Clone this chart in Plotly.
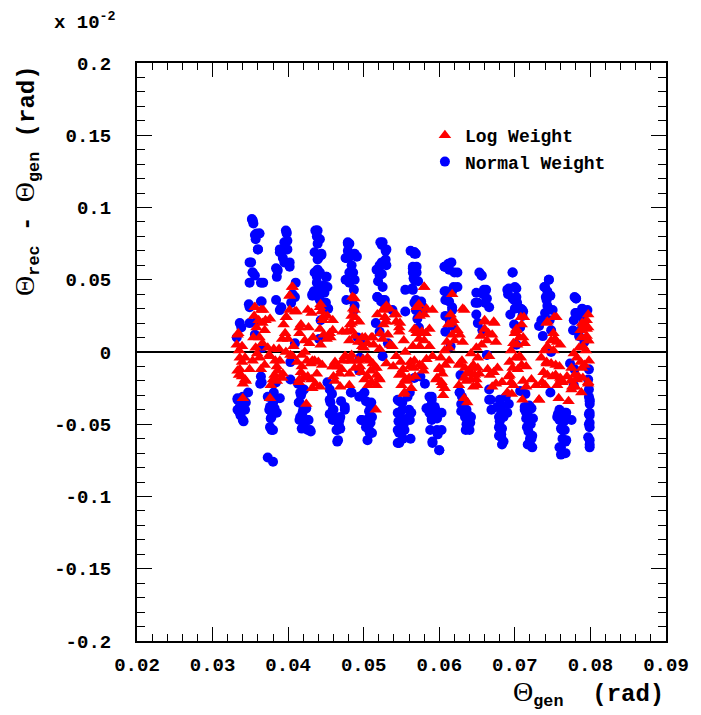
import plotly.graph_objects as go

# ---------------- data (units of the axes) ----------------
normal_x = [
    # cell 1
    .0333, .0340, .0336, .0343, .0337, .0341, .0333, .0344, .0347, .0332, .0336, .0338,
    .0353, .0354, .0356, .0362, .0357, .0360, .0351, .0353, .0356, .0349, .0364, .0348,
    .0364, .0349, .0358, .0356, .0365, .0352,
    # cell 2
    .0373, .0380, .0375, .0382, .0377, .0385, .0376, .0378, .0373, .0380, .0381, .0364,
    .0363, .0384, .0397, .0398, .0395, .0399, .0397, .0389, .0393, .0402, .0384, .0386,
    .0410, .0384, .0391, .0389, .0406, .0409, .0404, .0403, .0403, .0409,
    # cell 3
    .0413, .0416, .0417, .0421, .0414, .0420, .0424, .0416, .0423, .0427, .0418, .0426,
    .0430, .0436, .0438, .0435, .0440, .0435, .0438, .0432, .0434, .0440, .0439, .0442,
    .0444, .0439, .0447, .0442, .0450, .0452, .0448, .0450, .0453, .0443, .0441,
    # cell 4
    .0455, .0458, .0456, .0460, .0455, .0459, .0469, .0467, .0465, .0469, .0465, .0475,
    .0470, .0479, .0481, .0479, .0488, .0491, .0476, .0484, .0482, .0486, .0476, .0481,
    .0487, .0485, .0477, .0488, .0487, .0492, .0496, .0494, .0483,
    # cell 5
    .0494, .0498, .0503, .0509, .0507, .0511, .0506, .0509, .0503, .0507, .0505, .0511,
    .0497, .0522, .0524, .0529, .0529, .0521, .0530, .0520, .0524, .0519, .0525, .0518,
    .0523, .0528, .0528, .0538, .0516, .0521, .0532, .0525,
    # cell 6
    .0545, .0547, .0551, .0545, .0549, .0546, .0553, .0545, .0551, .0547, .0552, .0558,
    .0560, .0558, .0562, .0567, .0569, .0565, .0570, .0566, .0572, .0564, .0569, .0574,
    .0577, .0580, .0569, .0571, .0573, .0555, .0562, .0555, .0575, .0581, .0567,
    # cell 7
    .0587, .0590, .0589, .0595, .0587, .0593, .0590, .0597, .0588, .0597, .0598, .0591,
    .0600, .0583, .0607, .0612, .0613, .0620, .0607, .0617, .0619, .0608, .0613, .0617,
    .0608, .0614, .0608, .0617, .0615, .0628,
    # cell 8
    .0627, .0630, .0629, .0633, .0631, .0635, .0634, .0639, .0636, .0641, .0638, .0635,
    .0629, .0653, .0656, .0659, .0658, .0649, .0663, .0661, .0649, .0651, .0657, .0648,
    .0663, .0666, .0668,
    # cell 9
    .0677, .0679, .0680, .0679, .0680, .0683, .0682, .0685, .0680, .0683, .0682, .0685,
    .0690, .0692, .0688, .0697, .0692, .0700, .0691, .0697, .0702, .0703, .0700, .0708,
    .0711, .0694, .0699, .0707, .0710, .0702, .0707, .0714,
    # cell 10
    .0713, .0717, .0715, .0719, .0717, .0721, .0718, .0723, .0720, .0717, .0724, .0722,
    .0719, .0745, .0740, .0743, .0741, .0747, .0743, .0740, .0745, .0735, .0746, .0748,
    .0737, .0732, .0748, .0747,
    # cell 11
    .0759, .0762, .0766, .0759, .0765, .0768, .0761, .0766, .0763, .0767, .0759, .0761,
    .0767, .0757, .0779, .0781, .0780, .0778, .0789, .0788, .0791, .0777, .0785, .0792,
    .0773, .0779, .0778,
    # cell 12
    .0798, .0799, .0798, .0798, .0799, .0798, .0797, .0797, .0799, .0799, .0799, .0798,
    # extra points, upper halves
    .0567, .0570, .0565, .0567, .0565, .0576, .0567, .0607, .0616, .0624, .0609, .0617,
    .0624, .0656, .0662, .0651, .0666, .0697, .0690, .0702, .0699, .0710, .0745, .0739,
    .0742, .0750, .0781, .0782, .0796, .0789,
    .0353, .0358, .0362, .0360, .0349, .0353, .0367, .0365, .0349, .0398, .0389, .0399,
    .0395, .0402, .0386, .0385, .0438, .0439, .0444, .0439, .0442, .0438, .0451, .0432,
    .0442, .0479, .0477, .0481, .0481, .0488, .0477, .0517, .0521, .0525, .0530, .0524,
    .0518, .0525, .0567, .0565, .0567,
    # extra points, lower halves
    .0561, .0563, .0561, .0590, .0594, .0590, .0603, .0603, .0591, .0600, .0627, .0631,
    .0636, .0642, .0640, .0637, .0666, .0669, .0682, .0679, .0682, .0683, .0715, .0716,
    .0722, .0723, .0713, .0756, .0763, .0761, .0768, .0775, .0768, .0799, .0799, .0799,
    .0799, .0799,
    .0333, .0339, .0336, .0340, .0376, .0382, .0378, .0380, .0389, .0418, .0415, .0419,
    .0426, .0429, .0415, .0455, .0459, .0462, .0466, .0464, .0468, .0475, .0497, .0505,
    .0508, .0510, .0501, .0547, .0550, .0554, .0547, .0545, .0551,
    .0365, .0452, .0495, .0484,
]
normal_y = [
    # cell 1
    -.032, -.031, -.038, -.040, -.044, -.048, -.040, -.035, -.028, .010, .020, .017,
    .091, .089, .081, .082, .078, .071, .062, .055, .053, .048, .048, .033,
    .035, .020, .021, .012, .003, .092,
    # cell 2
    -.031, -.035, -.040, -.039, -.046, -.042, -.052, -.054, -.073, -.076, -.028, -.017,
    -.022, -.021, .084, .082, .076, .077, .071, .069, .065, .062, .058, .056,
    .048, .036, .031, .029, .040, .038, .034, -.007, -.019, .006,
    # cell 3
    -.022, -.028, -.030, -.026, -.035, -.040, -.039, -.045, -.048, -.047, -.053, -.054,
    -.055, .084, .080, .069, .065, .055, .052, .040, .042, .038, .084, .078,
    .067, .057, .046, .036, .052, .045, .041, .034, .030, .022, .009,
    # cell 4
    -.026, -.029, -.035, -.040, -.043, -.047, -.045, -.050, -.054, -.053, -.062, -.040,
    -.034, .076, .075, .070, .068, .066, .065, .060, .055, .055, .050, .048,
    .043, .036, .036, .032, .029, .010, .008, -.013, -.028,
    # cell 5
    -.031, -.030, -.034, -.038, -.041, -.045, -.046, -.049, -.052, -.054, -.061, -.056,
    -.047, .076, .074, .070, .064, .060, .060, .056, .054, .049, .045, .038,
    .035, .036, .033, .029, .020, .014, .006, -.003,
    # cell 6
    -.033, -.034, -.040, -.042, -.045, -.048, -.050, -.054, -.055, -.063, -.060, -.031,
    -.040, -.046, -.060, .069, .068, .058, .055, .051, .049, .044, .036, .034,
    .032, .030, .029, .023, .017, .043, .070, .028, -.017, -.022, -.018,
    # cell 7
    -.031, -.033, -.037, -.040, -.042, -.044, -.047, -.046, -.054, -.054, -.057, -.062,
    -.068, -.039, .059, .061, .057, .055, .042, .042, .045, .036, .035, .031,
    .025, .021, .014, .018, .004, -.016,
    # cell 8
    -.028, -.031, -.036, -.034, -.040, -.041, -.045, -.044, -.050, -.049, -.053, -.054,
    -.041, .055, .053, .043, .040, .041, .037, .034, .026, .020, .015, .034,
    -.002, -.026, -.033,
    # cell 9
    -.038, -.045, -.053, -.058, -.033, -.037, -.042, -.045, -.048, -.053, -.057, -.062,
    -.042, -.036, -.031, .055, .044, .045, .040, .037, .038, .034, .030, .030,
    .028, .026, .019, .017, .025, .005, -.027, -.029,
    # cell 10
    -.040, -.042, -.046, -.048, -.052, -.050, -.055, -.058, -.060, -.064, -.046, -.039,
    -.037, .050, .045, .042, .038, .039, .032, .027, .030, .022, .022, .015,
    .011, .018, .000, -.028,
    # cell 11
    -.040, -.043, -.042, -.047, -.048, -.046, -.053, -.054, -.060, -.062, -.066, -.071,
    -.070, -.043, .038, .037, .027, .022, .030, .025, .021, .015, .011, .007,
    -.008, -.012, -.023,
    # cell 12
    -.031, -.034, -.043, -.050, -.044, -.026, -.059, -.019, -.064, -.049, -.036, -.012,
    # extra points, upper halves
    .069, .059, .055, .050, .043, .035, .034, .059, .062, .055, .042, .029,
    .045, .053, .043, .034, .031, .055, .043, .044, .036, .029, .050, .045,
    .036, .029, .037, .027, .029, .017,
    .091, .082, .082, .071, .062, .055, .048, .035, .031, .083, .071, .071,
    .062, .059, .057, .052, .084, .075, .068, .064, .055, .048, .052, .039,
    .043, .075, .065, .066, .055, .050, .050, .057, .053, .076, .071, .062,
    .038, .036, .068, .059, .051,
    # extra points, lower halves
    -.028, -.042, -.047, -.031, -.038, -.046, -.042, -.054, -.063, -.068, -.028, -.035,
    -.040, -.045, -.054, -.049, -.033, -.040, -.045, -.052, -.059, -.064, -.042, -.052,
    -.060, -.066, -.038, -.045, -.054, -.066, -.061, -.047, -.042, -.033, -.042, -.052,
    -.061, -.066,
    -.033, -.038, -.042, -.047, -.038, -.033, -.045, -.054, -.032, -.028, -.035, -.042,
    -.047, -.054, -.047, -.033, -.040, -.045, -.061, -.054, -.047, -.038, -.047, -.049,
    -.056, -.035, -.028, -.042, -.048, -.054, -.056, -.063, -.035,
    -.021, -.021, -.004, -.028,
]

log_x = [
    # cell 1
    .0333, .0332, .0335, .0339, .0336, .0339, .0343, .0333, .0335, .0339, .0340, .0344,
    .0340, .0356, .0355, .0364, .0361, .0358, .0366, .0362, .0366, .0373, .0357, .0359,
    .0362, .0364, .0369, .0370, .0369, .0354,
    # cell 2
    .0397, .0402, .0409, .0406, .0402, .0394, .0396, .0400, .0392, .0388, .0381, .0375,
    .0383, .0389, .0386, .0382, .0392, .0385, .0377, .0376, .0397, .0403, .0407, .0417,
    .0415, .0412, .0418,
    # cell 3
    .0443, .0444, .0446, .0452, .0459, .0442, .0447, .0451, .0443, .0456, .0440, .0445,
    .0426, .0427, .0431, .0428, .0433, .0422, .0425, .0430, .0435, .0417, .0421, .0426,
    .0431, .0414, .0436, .0424, .0432,
    # cell 4
    .0488, .0486, .0484, .0489, .0494, .0482, .0478, .0484, .0488, .0481, .0493, .0498,
    .0500, .0476, .0481, .0472, .0462, .0459, .0466, .0471, .0460, .0469, .0481, .0481,
    .0488, .0493, .0497, .0484, .0502, .0499,
    # cell 5
    .0518, .0527, .0530, .0528, .0530, .0541, .0543, .0526, .0522, .0525, .0532, .0510,
    .0505, .0513, .0535, .0521, .0538, .0505, .0512, .0514, .0509, .0505, .0517, .0510,
    .0517, .0506, .0520, .0516, .0539,
    # cell 6
    .0580, .0573, .0583, .0574, .0580, .0567, .0577, .0582, .0573, .0580, .0565, .0574,
    .0587, .0548, .0547, .0553, .0555, .0549, .0552, .0547, .0555, .0550, .0553, .0562,
    .0566, .0560, .0568, .0574, .0579, .0563, .0583,
    # cell 7
    .0617, .0631, .0615, .0619, .0612, .0624, .0617, .0627, .0620, .0631, .0610, .0613,
    .0607, .0602, .0608, .0600, .0604, .0597, .0603, .0607, .0605, .0626, .0630, .0634,
    .0626, .0633, .0636, .0633,
    # cell 8
    .0660, .0672, .0660, .0665, .0670, .0655, .0663, .0675, .0656, .0649, .0642, .0651,
    .0645, .0651, .0641, .0647, .0642, .0650, .0645, .0637, .0664, .0667, .0672, .0670,
    .0675,
    # cell 9
    .0708, .0709, .0702, .0700, .0706, .0711, .0698, .0703, .0713, .0695, .0701, .0708,
    .0693, .0697, .0704, .0709, .0692, .0695, .0698, .0696, .0711, .0715, .0710,
    # cell 10
    .0752, .0743, .0751, .0753, .0748, .0756, .0743, .0739, .0751, .0760, .0735, .0742,
    .0748, .0754, .0738, .0743, .0754, .0760, .0736, .0740, .0756, .0761, .0732, .0758,
    # cell 11
    .0787, .0791, .0793, .0795, .0788, .0795, .0797, .0785, .0790, .0794, .0778, .0782,
    .0787, .0792, .0775, .0779, .0784, .0790, .0774, .0780, .0775, .0797, .0788, .0771,
    .0795, .0797,
    # extra points, upper part
    .0334, .0356, .0367, .0376, .0402, .0405, .0398, .0411, .0415, .0422, .0442, .0446,
    .0459, .0455, .0472, .0485, .0488, .0484, .0498, .0512, .0525, .0534, .0543, .0547,
    .0570, .0570, .0571, .0580, .0591, .0570, .0587, .0617, .0633, .0660, .0673, .0712,
    .0702, .0755, .0742, .0789, .0797, .0797,
    # extra points, lower part
    .0336, .0349, .0343, .0353, .0376, .0385, .0380, .0393, .0406, .0418, .0415, .0426,
    .0438, .0432, .0442, .0459, .0468, .0462, .0475, .0485, .0495, .0501, .0517, .0521,
    .0508, .0530, .0543, .0550, .0561, .0557, .0554,
    .0567, .0578, .0591, .0600, .0596, .0604, .0613, .0627, .0636, .0642, .0649, .0653,
    .0666, .0677, .0683, .0693, .0690, .0706, .0715, .0722, .0728, .0732, .0742, .0750,
    .0759, .0763, .0769, .0776, .0782, .0789, .0797, .0798,
]
log_y = [
    # cell 1
    .012, .005, .001, .004, -.004, -.007, -.004, -.013, -.016, -.017, -.022, -.020,
    -.032, .031, .025, .029, .022, .017, .020, .010, .006, .003, .003, -.001,
    -.004, -.012, -.009, .022, .015, .010,
    # cell 2
    .024, .029, .028, .045, .039, .019, .013, .009, .009, .002, .002, -.002,
    -.006, -.006, -.013, -.016, -.018, -.020, -.023, -.032, .000, -.002, .004, .019,
    .013, -.007, -.002,
    # cell 3
    .033, .028, .024, .025, .015, .016, .012, .009, .005, .010, -.007, -.009,
    .029, .017, .027, .006, .010, .000, -.006, -.008, -.006, -.014, -.017, -.018,
    -.019, -.021, -.022, -.036, -.025,
    # cell 4
    .037, .030, .025, .024, .021, .019, .014, .015, .011, .008, .007, .004,
    .003, -.003, -.006, -.006, -.007, -.010, -.010, -.012, -.017, -.024, -.015, -.023,
    -.011, -.006, -.014, -.002, .010, -.005,
    # cell 5
    .026, .030, .032, .024, .021, .026, .021, .019, .013, .009, .012, .010,
    .006, .005, .005, .002, .004, -.004, -.008, -.011, -.013, -.017, -.016, -.021,
    -.023, -.023, -.018, -.040, -.010,
    # cell 6
    .045, .033, .030, .025, .026, .016, .014, .013, .009, .008, .004, .004,
    .004, .020, .014, .008, .000, -.007, -.012, -.016, -.019, -.023, -.029, -.007,
    -.011, -.018, -.017, -.009, -.013, -.025, -.005,
    # cell 7
    .040, .030, .026, .022, .019, .015, .012, .012, .008, .007, .007, .003,
    .001, -.004, -.009, -.011, -.015, -.018, -.021, -.025, -.030, -.009, -.006, -.011,
    -.023, -.018, -.020, -.032,
    # cell 8
    .022, .021, .016, .013, .012, .011, .008, .007, .005, .003, -.001, -.004,
    -.009, -.011, -.014, -.016, -.019, -.023, -.024, -.035, -.012, -.016, -.014, -.024,
    -.022,
    # cell 9
    .024, .019, .016, .013, .010, .010, .006, .005, .006, .001, -.004, -.004,
    -.007, -.011, -.012, -.009, -.017, -.021, -.023, -.029, -.020, -.024, -.033,
    # cell 10
    .024, .021, .013, .009, .008, .007, .004, .001, .001, .005, -.004, -.007,
    -.008, -.009, -.014, -.016, -.016, -.018, -.021, -.023, -.023, -.019, -.033, -.032,
    # cell 11
    .015, .019, .018, .016, .010, .011, .008, .003, .004, .001, -.001, -.004,
    -.007, -.009, -.011, -.016, -.017, -.018, -.020, -.024, -.026, -.022, -.028, -.034,
    .022, .026,
    # extra points, upper part
    .013, .031, .029, .023, .039, .045, .024, .028, .017, .008, .031, .022,
    .022, .013, .014, .038, .029, .020, .010, .010, .029, .030, .026, .017,
    .031, .013, .031, .045, .029, .015, .016, .020, .029, .021, .020, .024,
    .015, .024, .020, .020, .017, .008,
    # extra points, lower part
    -.012, -.012, -.019, -.006, -.003, -.010, -.019, -.015, -.003, -.010, -.019, -.017,
    -.015, -.006, -.024, -.010, -.015, -.020, -.003, -.006, -.010, -.019, -.011, -.019,
    -.006, -.008, -.003, -.015, -.010, -.020, -.028,
    -.006, -.010, -.003, -.012, -.019, -.023, -.006, -.008, -.015, -.011, -.019, -.015,
    -.003, -.011, -.021, -.016, -.028, -.003, -.010, -.019, -.023, -.033, -.008, -.017,
    -.010, -.021, -.017, -.024, -.019, -.011, -.021, -.006,
]

x_tick_vals = [0.02, 0.03, 0.04, 0.05, 0.06, 0.07, 0.08, 0.09]
x_tick_text = ["0.02", "0.03", "0.04", "0.05", "0.06", "0.07", "0.08", "0.09"]
y_tick_vals = [-0.2, -0.15, -0.1, -0.05, 0, 0.05, 0.1, 0.15, 0.2]
y_tick_text = ["-0.2", "-0.15", "-0.1", "-0.05", "0", "0.05", "0.1", "0.15", "0.2"]

FONT = "Liberation Mono"
THETA = ('<span style="font-family:Liberation Serif;font-weight:normal;'
         'font-size:28px">Θ</span>')

fig = go.Figure()
fig.add_trace(go.Scatter(
    x=normal_x, y=normal_y, mode="markers", name="Normal Weight",
    marker=dict(symbol="circle", size=10, color="#0000ff", line=dict(width=0)),
))
fig.add_trace(go.Scatter(
    x=log_x, y=log_y, mode="markers", name="Log Weight",
    marker=dict(symbol="triangle-up", size=11, color="#ff0000", line=dict(width=0)),
))

axis_common = dict(
    showgrid=False, showline=True, linecolor="black", linewidth=2, mirror="ticks",
    ticks="inside", tickcolor="black", tickwidth=1,
    tickfont=dict(family=FONT, size=19, color="black", weight="bold"),
)
fig.update_xaxes(
    range=[0.02, 0.09], tickvals=x_tick_vals, ticktext=x_tick_text, ticklen=14,
    minor=dict(dtick=0.002, ticks="inside", ticklen=7, tickcolor="black"),
    zeroline=False, ticklabelstandoff=5, **axis_common,
)
fig.update_yaxes(
    range=[-0.2, 0.2], tickvals=y_tick_vals, ticktext=y_tick_text, ticklen=15,
    minor=dict(dtick=0.01, ticks="inside", ticklen=8, tickcolor="black"),
    zeroline=True, zerolinecolor="black", zerolinewidth=1.5,
    ticklabelstandoff=20, **axis_common,
)

# the page body adds an 8px margin on the left and top
W, H = 693, 707
L, T, PW, PH = 129, 55, 531, 578
fig.update_layout(
    width=W, height=H,
    margin=dict(l=L, r=W - L - PW, t=T, b=H - T - PH),
    paper_bgcolor="white", plot_bgcolor="white",
    showlegend=True,
    legend=dict(
        x=(426 - 137) / PW, y=(641 - 117) / PH, xanchor="left", yanchor="top",
        bgcolor="rgba(0,0,0,0)", traceorder="reversed",
        font=dict(family=FONT, size=18, color="black", weight="bold"),
        itemsizing="trace", tracegroupgap=0,
    ),
    annotations=[
        dict(text="x 10<sup>-2</sup>", x=(52 - 137) / PW, y=(641 - 22) / PH,
             xref="paper", yref="paper",
             showarrow=False, xanchor="left", yanchor="middle",
             font=dict(family=FONT, size=19, color="black", weight="bold")),
        dict(text=THETA + "<sub>gen</sub>  (rad)",
             x=1.0, y=(641 - 693) / PH, xref="paper", yref="paper",
             showarrow=False, xanchor="right", yanchor="middle",
             font=dict(family=FONT, size=24, color="black", weight="bold")),
        dict(text=THETA + "<sub>rec</sub> - " + THETA + "<sub>gen</sub> (rad)",
             x=(26 - 137) / PW, y=1.0,
             xref="paper", yref="paper", textangle=-90,
             showarrow=False, xanchor="center", yanchor="top",
             font=dict(family=FONT, size=24, color="black", weight="bold")),
    ],
)

fig.write_html("out.html")
